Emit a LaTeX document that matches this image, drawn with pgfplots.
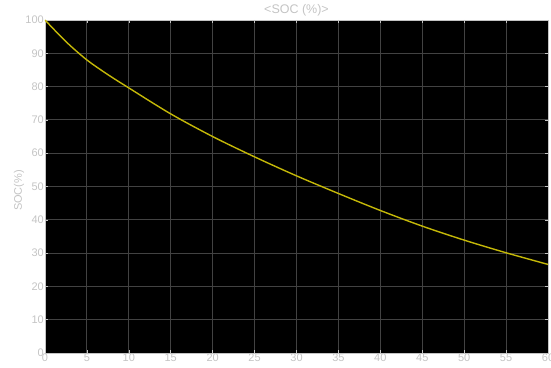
\documentclass[border=0pt]{standalone}
\usepackage{pgfplots}
\pgfplotsset{compat=1.18}
\usepackage{fontspec}
\setmainfont{Liberation Sans}
\definecolor{labelgrey}{RGB}{196,196,196}
\definecolor{gridgrey}{RGB}{66,66,66}
\definecolor{socyellow}{RGB}{196,184,8}
\begin{document}
\begin{tikzpicture}
\useasboundingbox (-45pt,-14pt) rectangle (506pt,353pt);
\begin{axis}[
  scale only axis,
  width=503pt, height=333pt,
  xmin=0, xmax=60, ymin=0, ymax=100,
  xtick={0,5,...,60}, ytick={0,10,...,100},
  axis background/.style={fill=black},
  axis line style={labelgrey, line width=0.6pt},
  grid=major,
  major grid style={gridgrey, line width=0.9pt},
  tick style={labelgrey, line width=0.6pt},
  tick align=inside,
  major tick length=3pt,
  ticklabel style={font=\fontsize{11}{12}\selectfont, text=labelgrey},
  xticklabel style={inner sep=1pt, yshift=0pt},
  yticklabel style={inner sep=1pt, xshift=0pt},
  /pgf/number format/assume math mode=true,
  title={<SOC (\%)>},
  title style={font=\fontsize{12.5}{13}\selectfont, text=labelgrey, inner sep=1pt, yshift=-3pt},
  ylabel={SOC(\%)},
  every axis y label/.style={at={(ticklabel cs:0.5)}, rotate=90, anchor=south,
    font=\fontsize{11}{12}\selectfont, text=labelgrey, inner sep=0pt, xshift=-4pt},
]
% state of charge over time
\addplot[socyellow, line width=1.4pt, smooth] coordinates {
  (0,100) (2.5,93.5) (5,88.0) (7.5,83.6) (10,79.6) (15,71.8) (20,65.0)
  (25,58.9) (30,53.2) (35,47.9) (40,42.8) (45,38.1) (50,33.9) (55,30.1) (60,26.6)
};
\end{axis}
\end{tikzpicture}
\end{document}
